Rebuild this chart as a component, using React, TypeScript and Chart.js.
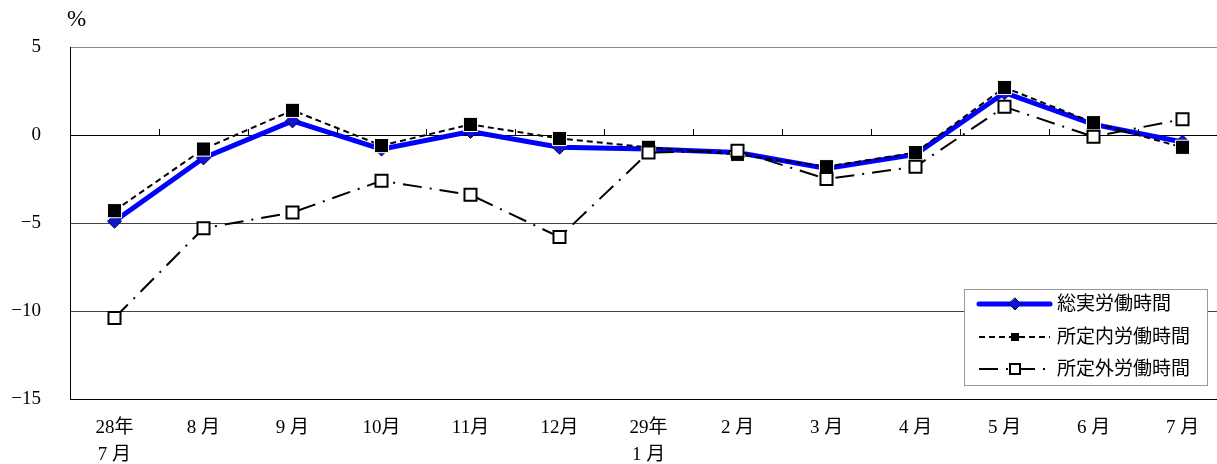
import React, { useEffect, useRef } from 'react';
import { Chart, registerables } from 'chart.js';

Chart.register(...registerables);

const categories: (string | string[])[] = [
  ['28年', '7 月'], '8 月', '9 月', '10月', '11月', '12月', ['29年', '1 月'],
  '2 月', '3 月', '4 月', '5 月', '6 月', '7 月',
];
const seriesNames = ['総実労働時間', '所定内労働時間', '所定外労働時間'];
const totalHours = [-4.9, -1.3, 0.8, -0.8, 0.2, -0.7, -0.8, -1.0, -1.9, -1.1, 2.4, 0.6, -0.4];
const scheduledHours = [-4.3, -0.8, 1.4, -0.6, 0.6, -0.2, -0.7, -1.1, -1.8, -1.0, 2.7, 0.7, -0.7];
const overtimeHours = [-10.4, -5.3, -4.4, -2.6, -3.4, -5.8, -1.0, -0.9, -2.5, -1.8, 1.6, -0.1, 0.9];
const yMin = -15;
const yMax = 5;
const yStep = 5;
const unitLabel = '%';

const FONT = '"Liberation Serif", "DejaVu Serif", "Noto Sans CJK JP", serif';

const BLUE = '#0000ff';

const decorPlugin = {
  id: 'decor',
  afterDraw(chart: any) {
    const ctx = chart.ctx as CanvasRenderingContext2D;
    const x = chart.scales.x;
    const y = chart.scales.y;
    const area = chart.chartArea;
    ctx.save();
    // tick marks on the zero line at category boundaries
    const y0 = y.getPixelForValue(0);
    ctx.strokeStyle = '#000';
    ctx.lineWidth = 1;
    for (let i = 0; i < categories.length - 1; i++) {
      const bx = Math.round((x.getPixelForValue(i) + x.getPixelForValue(i + 1)) / 2) + 0.5;
      ctx.beginPath();
      ctx.moveTo(bx, y0 - 6);
      ctx.lineTo(bx, y0);
      ctx.stroke();
    }
    // unit label
    ctx.fillStyle = '#000';
    ctx.font = '23px ' + FONT;
    ctx.textAlign = 'left';
    ctx.textBaseline = 'middle';
    ctx.fillText(unitLabel, area.left - 3, 20);

    // legend
    const bx0 = 964.5, by0 = 289.5, bw = 243, bh = 96;
    ctx.fillStyle = '#fff';
    ctx.fillRect(bx0, by0, bw, bh);
    ctx.strokeStyle = '#999';
    ctx.lineWidth = 1;
    ctx.strokeRect(bx0, by0, bw, bh);
    const rows = [304, 337, 369];
    const lx1 = 979, lx2 = 1050, mx = 1015;
    const ds = chart.data.datasets;
    rows.forEach((ry, i) => {
      const d = ds[i];
      ctx.save();
      ctx.beginPath();
      ctx.strokeStyle = d.borderColor;
      ctx.lineWidth = d.borderWidth;
      ctx.lineCap = i === 0 ? 'round' : 'butt';
      ctx.setLineDash(d.borderDash || []);
      ctx.moveTo(lx1, ry);
      ctx.lineTo(lx2, ry);
      ctx.stroke();
      ctx.setLineDash([]);
      if (i === 0) {
        ctx.beginPath();
        ctx.moveTo(mx, ry - 6);
        ctx.lineTo(mx + 6, ry);
        ctx.lineTo(mx, ry + 6);
        ctx.lineTo(mx - 6, ry);
        ctx.closePath();
        ctx.fillStyle = d.pointBackgroundColor;
        ctx.fill();
        ctx.strokeStyle = d.pointBorderColor;
        ctx.lineWidth = 1;
        ctx.stroke();
      } else if (i === 1) {
        ctx.fillStyle = '#000';
        ctx.fillRect(mx - 4, ry - 4, 8, 8);
      } else {
        ctx.fillStyle = '#fff';
        ctx.fillRect(mx - 5, ry - 5, 10, 10);
        ctx.strokeStyle = '#000';
        ctx.lineWidth = 2;
        ctx.strokeRect(mx - 5, ry - 5, 10, 10);
      }
      ctx.restore();
      ctx.fillStyle = '#000';
      ctx.font = '19px ' + FONT;
      ctx.textAlign = 'left';
      ctx.textBaseline = 'middle';
      ctx.fillText(seriesNames[i], 1057, ry + 1);
    });
    ctx.restore();
  },
};

export default function App() {
  const ref = useRef<HTMLCanvasElement | null>(null);
  useEffect(() => {
    if (!ref.current) return;
    const chart = new Chart(ref.current, {
      type: 'line',
      data: {
        labels: categories as any,
        datasets: [
          {
            label: seriesNames[0],
            data: totalHours,
            borderColor: BLUE,
            borderWidth: 5,
            pointStyle: 'rectRot',
            pointRadius: 7,
            pointBackgroundColor: '#1414c8',
            pointBorderColor: '#000080',
            pointBorderWidth: 1,
            order: 3,
          } as any,
          {
            label: seriesNames[1],
            data: scheduledHours,
            borderColor: '#000',
            borderWidth: 2,
            borderDash: [6, 4],
            pointStyle: 'rect',
            pointRadius: 10,
            pointBackgroundColor: '#000',
            pointBorderColor: '#fff',
            pointBorderWidth: 1,
            order: 2,
          },
          {
            label: seriesNames[2],
            data: overtimeHours,
            borderColor: '#000',
            borderWidth: 2,
            borderDash: [19, 8, 2, 8],
            pointStyle: 'rect',
            pointRadius: 8.5,
            pointBackgroundColor: '#fff',
            pointBorderColor: '#000',
            pointBorderWidth: 2,
            order: 1,
          },
        ],
      },
      options: {
        responsive: false,
        animation: false,
        events: [],
        layout: { padding: { top: 47, right: 13, left: 0, bottom: 0 } },
        plugins: { legend: { display: false }, tooltip: { enabled: false } },
        scales: {
          x: {
            offset: true,
            grid: { display: false },
            border: { display: true, color: '#000', width: 1 },
            ticks: {
              color: '#000',
              font: { family: FONT, size: 19, lineHeight: 1.45 },
              padding: 7,
              maxRotation: 0,
              autoSkip: false,
            },
            afterFit: (s: any) => { s.height = 65; },
          },
          y: {
            min: yMin,
            max: yMax,
            grid: {
              drawTicks: false,
              color: (c: any) => (c.tick && c.tick.value === 0 ? '#000' : c.tick && c.tick.value === yMax ? '#8a8a8a' : '#444'),
              lineWidth: 1,
            },
            border: { display: true, color: '#000', width: 1 },
            ticks: {
              stepSize: yStep,
              color: '#000',
              padding: 29,
              font: { family: FONT, size: 19 },
              callback: (v: any) => String(v).replace('-', '−'),
            },
            afterFit: (s: any) => { s.width = 70; },
          },
        },
      },
      plugins: [decorPlugin],
    });
    return () => chart.destroy();
  }, []);
  return (
    <div style={{ position: 'absolute', left: 0, top: 0, width: 1217, height: 464, overflow: 'hidden', background: '#fff' }}>
      <canvas ref={ref} width={1240} height={464} style={{ display: 'block' }} />
    </div>
  );
}
